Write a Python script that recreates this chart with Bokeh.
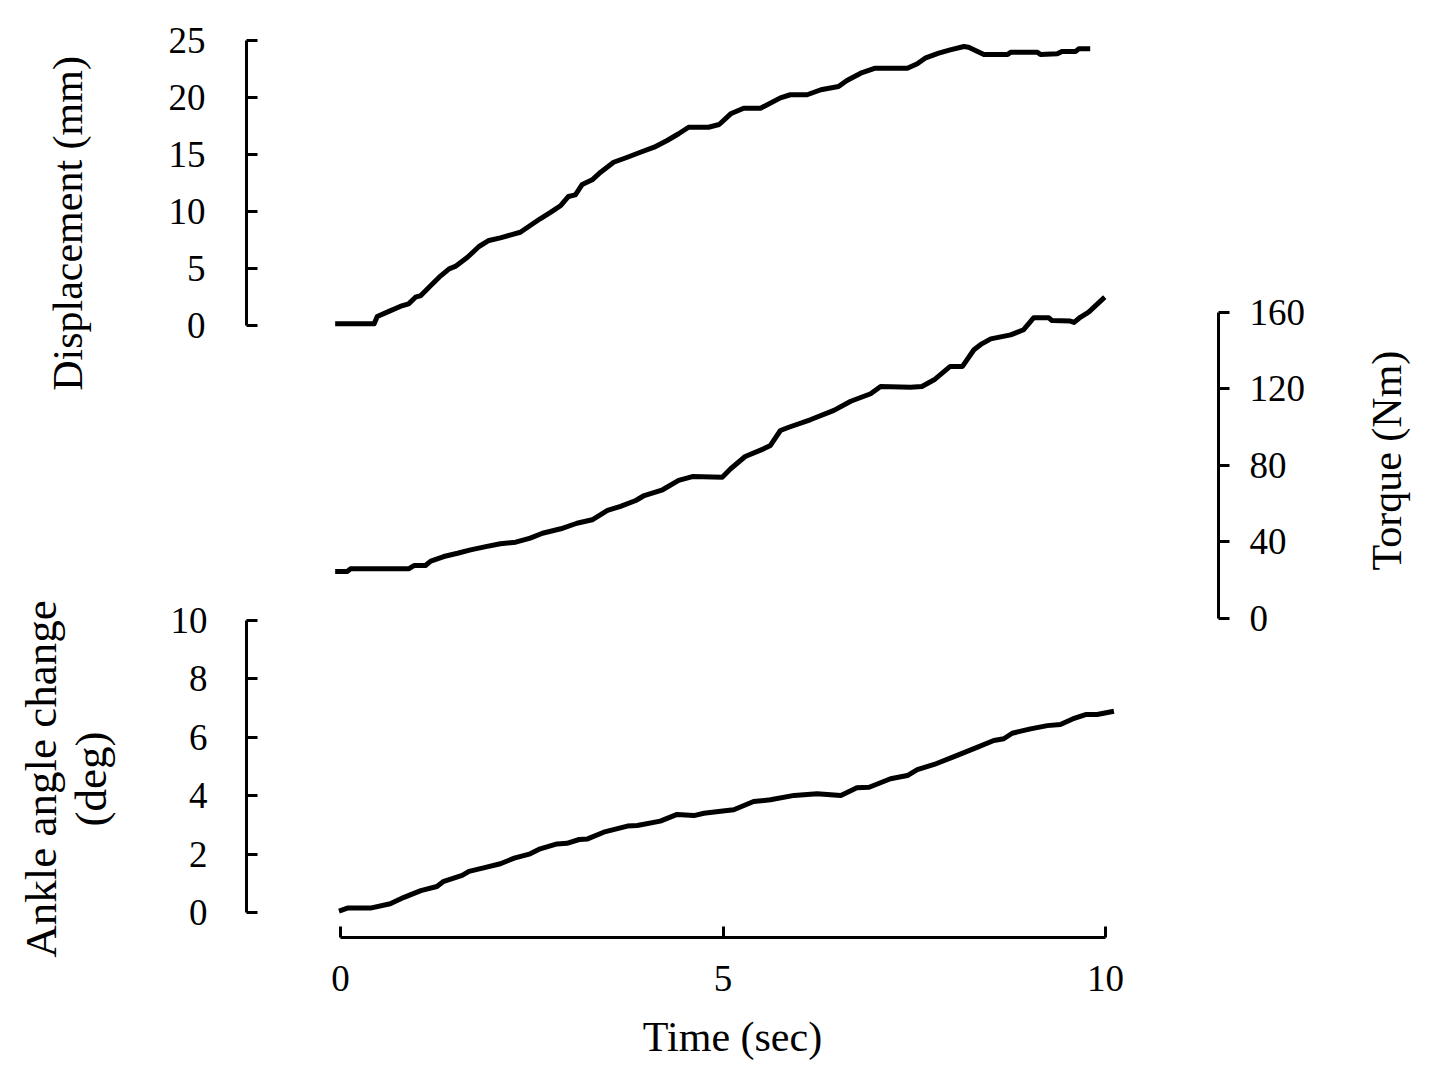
import math
from bokeh.plotting import figure
from bokeh.layouts import column
from bokeh.models import Range1d, LinearAxis, FixedTicker
from bokeh.embed import file_html
from bokeh.resources import INLINE

# ---------------- data ----------------
time_disp = [-0.07, 0.44, 0.48, 0.61, 0.78, 0.89, 0.98, 1.05, 1.18, 1.29, 1.42, 1.50,
             1.66, 1.81, 1.94, 2.09, 2.24, 2.35, 2.48, 2.61, 2.75, 2.88, 2.98, 3.07,
             3.16, 3.29, 3.40, 3.57, 3.75, 3.92, 4.10, 4.27, 4.42, 4.55, 4.81, 4.95,
             5.10, 5.27, 5.49, 5.56, 5.75, 5.88, 6.10, 6.28, 6.51, 6.62, 6.80, 6.99,
             7.41, 7.54, 7.65, 7.82, 7.97, 8.15, 8.21, 8.41, 8.72, 8.76, 9.11, 9.15,
             9.37, 9.43, 9.61, 9.65, 9.80]
disp_mm = [0.15, 0.15, 0.79, 1.17, 1.67, 1.90, 2.48, 2.63, 3.51, 4.24, 4.97, 5.18,
           5.99, 6.93, 7.46, 7.69, 7.98, 8.18, 8.77, 9.36, 9.94, 10.53, 11.32, 11.46,
           12.37, 12.78, 13.45, 14.32, 14.76, 15.20, 15.64, 16.23, 16.82, 17.39, 17.39, 17.63,
           18.57, 19.06, 19.06, 19.30, 19.97, 20.24, 20.24, 20.68, 20.96, 21.49, 22.13, 22.57,
           22.57, 22.96, 23.48, 23.89, 24.18, 24.47, 24.41, 23.77, 23.77, 23.97, 23.97, 23.77,
           23.83, 24.04, 24.04, 24.27, 24.27]

time_torque = [-0.07, 0.09, 0.13, 0.70, 0.89, 0.96, 1.11, 1.18, 1.35, 1.53, 1.70, 1.90,
               2.09, 2.29, 2.48, 2.64, 2.88, 3.09, 3.29, 3.49, 3.66, 3.86, 3.97, 4.21,
               4.42, 4.60, 4.99, 5.10, 5.29, 5.53, 5.62, 5.75, 5.86, 6.14, 6.45, 6.67,
               6.93, 7.06, 7.45, 7.60, 7.76, 7.97, 8.13, 8.28, 8.37, 8.50, 8.76, 8.93,
               9.06, 9.26, 9.30, 9.54, 9.59, 9.67, 9.78, 9.99]
torque_nm = [24.6, 24.6, 26.0, 26.0, 26.0, 27.7, 27.7, 30.0, 32.4, 34.1, 35.9, 37.6,
             39.1, 39.9, 42.0, 44.6, 46.9, 49.8, 51.6, 56.5, 58.6, 61.7, 64.3, 67.3,
             72.2, 74.2, 73.9, 78.3, 84.7, 88.7, 90.5, 98.3, 100.0, 103.9, 108.8, 113.6,
             117.5, 121.3, 120.9, 121.3, 124.8, 131.8, 131.8, 140.5, 143.3, 146.2, 148.3, 151.0,
             157.2, 157.2, 155.8, 155.5, 154.8, 157.5, 160.2, 168.0]

time_ankle = [-0.02, 0.09, 0.39, 0.65, 0.83, 1.05, 1.26, 1.35, 1.59, 1.68, 1.87, 2.09,
              2.27, 2.48, 2.61, 2.83, 2.96, 3.12, 3.23, 3.44, 3.75, 3.88, 4.18, 4.40,
              4.62, 4.75, 4.97, 5.14, 5.40, 5.62, 5.93, 6.23, 6.54, 6.75, 6.91, 7.19,
              7.41, 7.54, 7.76, 8.02, 8.28, 8.54, 8.67, 8.78, 9.02, 9.24, 9.41, 9.57,
              9.74, 9.89, 10.11]
ankle_deg = [0.05, 0.15, 0.15, 0.30, 0.52, 0.75, 0.89, 1.07, 1.27, 1.41, 1.53, 1.67,
             1.86, 2.01, 2.18, 2.35, 2.37, 2.50, 2.52, 2.75, 2.96, 2.98, 3.13, 3.36,
             3.32, 3.40, 3.47, 3.52, 3.80, 3.86, 4.01, 4.07, 4.01, 4.27, 4.29, 4.58,
             4.69, 4.89, 5.07, 5.34, 5.61, 5.89, 5.95, 6.14, 6.29, 6.40, 6.44, 6.63,
             6.78, 6.78, 6.89]

time_ticks = [0, 5, 10]
disp_ticks = [0, 5, 10, 15, 20, 25]
torque_ticks = [0, 40, 80, 120, 160]
ankle_ticks = [0, 2, 4, 6, 8, 10]

FONT = "Liberation Serif"
W, H = 1448, 1086
X_START, X_END = -1.229, 11.477


def layer(top, bottom, y_start, y_end, first):
    f = figure(width=W, height=H, output_backend="svg", toolbar_location=None,
               x_range=Range1d(X_START, X_END), y_range=Range1d(y_start, y_end),
               x_axis_location=None, y_axis_location=None,
               min_border_left=246, min_border_right=230,
               min_border_top=top, min_border_bottom=H - bottom)
    f.outline_line_color = None
    f.grid.visible = False
    if first:
        f.background_fill_color = "white"
        f.border_fill_color = "white"
    else:
        f.background_fill_color = None
        f.border_fill_color = None
        f.margin = (-H, 0, 0, 0)
    return f


def style(ax, tick_in, tick_out, standoff, label_standoff, label_size="42px"):
    ax.axis_line_width = 3
    ax.axis_line_color = "black"
    ax.major_tick_line_width = 3
    ax.major_tick_line_color = "black"
    ax.major_tick_in = tick_in
    ax.major_tick_out = tick_out
    ax.minor_tick_line_color = None
    ax.major_label_text_font = FONT
    ax.major_label_text_font_size = "37px"
    ax.major_label_text_color = "black"
    ax.major_label_standoff = standoff
    ax.axis_label_text_font = FONT
    ax.axis_label_text_font_size = label_size
    ax.axis_label_text_font_style = "normal"
    ax.axis_label_text_color = "black"
    ax.axis_label_standoff = label_standoff


LW = 5

# ---- layer 1: displacement (left axis) ----
p_disp = layer(30, 416, -7.982, 25.877, True)
dax = LinearAxis(ticker=FixedTicker(ticks=disp_ticks), bounds=(0, 25),
                 axis_label="Displacement (mm)")
style(dax, 11, 0, 41, 75)
p_disp.add_layout(dax, "left")
p_disp.line(time_disp, disp_mm, line_width=LW, line_color="black", line_join="round")

# ---- layer 2: torque (right axis) ----
p_torq = layer(290, 850, -121.31, 171.50, False)
tax = LinearAxis(ticker=FixedTicker(ticks=torque_ticks), bounds=(0, 160),
                 axis_label="Torque (Nm)")
style(tax, 0, 11, 20, 79)
if "axis_label_orientation" in LinearAxis.properties():
    tax.axis_label_orientation = math.pi / 2
p_torq.add_layout(tax, "right")
p_torq.line(time_torque, torque_nm, line_width=LW, line_color="black", line_join="round")

# ---- layer 3: ankle angle (left axis) + time axis ----
p_ank = layer(620, 937, -0.856, 10.0, False)
aax = LinearAxis(ticker=FixedTicker(ticks=ankle_ticks), bounds=(0, 10),
                 axis_label="Ankle angle change\n(deg)")
style(aax, 11, 0, 39, 52, "45px")
aax.axis_label_text_line_height = 1.0
p_ank.add_layout(aax, "left")
xax = LinearAxis(ticker=FixedTicker(ticks=time_ticks), bounds=(0, 10),
                 axis_label="Time (sec)")
style(xax, 11, 0, 28, 20)
p_ank.add_layout(xax, "below")
p_ank.line(time_ankle, ankle_deg, line_width=LW, line_color="black", line_join="round")

page = column(p_disp, p_torq, p_ank, spacing=0)
open("out.html", "w").write(file_html(page, INLINE))
